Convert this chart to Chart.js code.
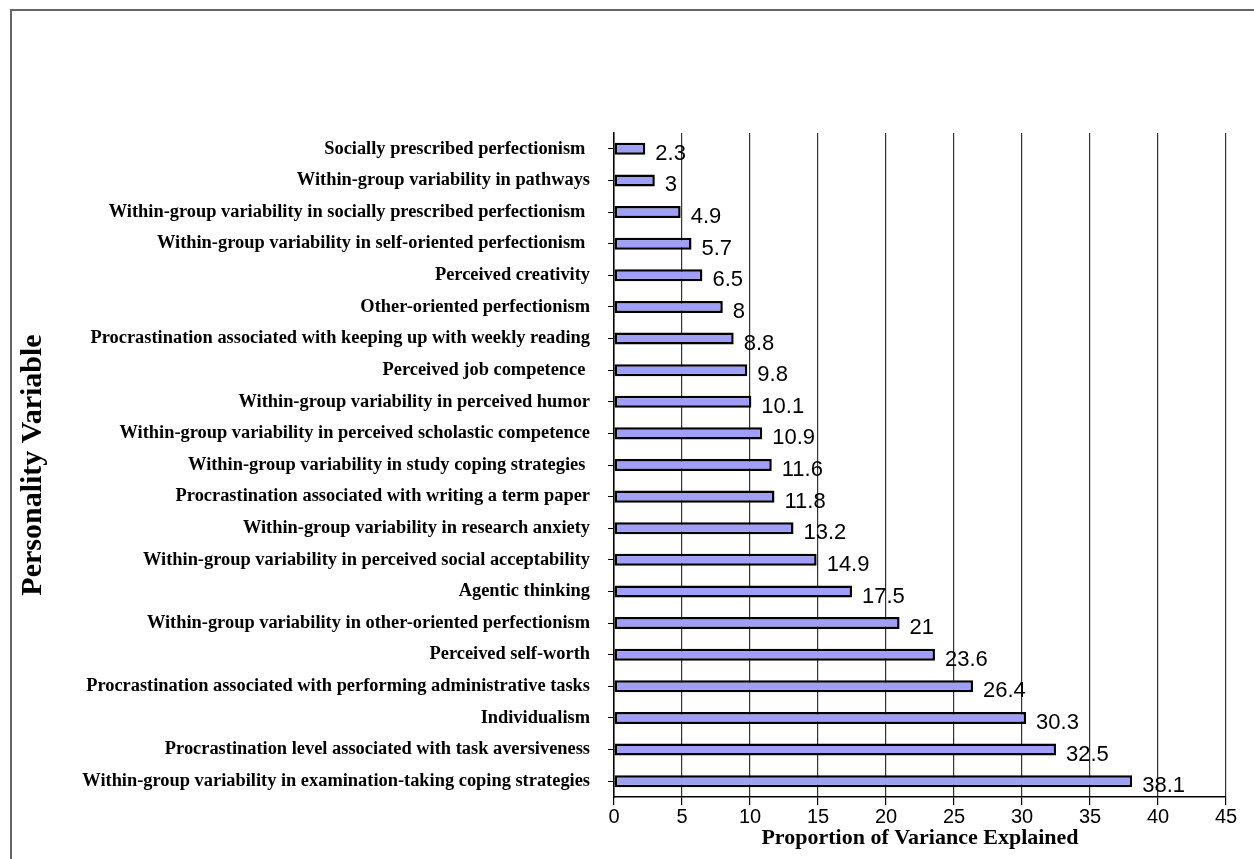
<!DOCTYPE html>
<html>
<head>
<meta charset="utf-8">
<script src="https://cdn.jsdelivr.net/npm/chart.js@4.4.0/dist/chart.umd.min.js"></script>
<style>
  body { margin: 0; background: #fff; }
  #wrap { width: 1254px; height: 859px; position: relative; }
</style>
</head>
<body>
<div id="wrap"><canvas id="barChart"></canvas></div>
<script>
// categories, top to bottom (some labels keep their trailing space like the original)
const variables = [
  "Socially prescribed perfectionism ",
  "Within-group variability in pathways",
  "Within-group variability in socially prescribed perfectionism ",
  "Within-group variability in self-oriented perfectionism ",
  "Perceived creativity",
  "Other-oriented perfectionism",
  "Procrastination associated with keeping up with weekly reading",
  "Perceived job competence ",
  "Within-group variability in perceived humor",
  "Within-group variability in perceived scholastic competence",
  "Within-group variability in study coping strategies ",
  "Procrastination associated with writing a term paper",
  "Within-group variability in research anxiety",
  "Within-group variability in perceived social acceptability",
  "Agentic thinking",
  "Within-group variability in other-oriented perfectionism",
  "Perceived self-worth",
  "Procrastination associated with performing administrative tasks",
  "Individualism",
  "Procrastination level associated with task aversiveness",
  "Within-group variability in examination-taking coping strategies",
];

const varianceExplained = [
  2.3, 3, 4.9, 5.7, 6.5, 8, 8.8, 9.8, 10.1, 10.9, 11.6,
  11.8, 13.2, 14.9, 17.5, 21, 23.6, 26.4, 30.3, 32.5, 38.1,
];

const xTicks = [0, 5, 10, 15, 20, 25, 30, 35, 40, 45];

// white page + grey frame
const framePlugin = {
  id: "frame",
  beforeDraw(chart) {
    const ctx = chart.ctx;
    ctx.save();
    ctx.fillStyle = "#fff";
    ctx.fillRect(0, 0, chart.width, chart.height);
    ctx.strokeStyle = "#666";
    ctx.lineWidth = 2;
    ctx.strokeRect(11, 10, 1400, 1000);
    ctx.restore();
  },
};

// value labels just past the end of each bar
const valueLabels = {
  id: "valueLabels",
  afterDatasetsDraw(chart) {
    const ctx = chart.ctx;
    const meta = chart.getDatasetMeta(0);
    ctx.save();
    ctx.font = "22px 'Liberation Sans', Arial, sans-serif";
    ctx.fillStyle = "#000";
    ctx.textAlign = "left";
    ctx.textBaseline = "middle";
    meta.data.forEach((bar, i) => {
      ctx.fillText(String(varianceExplained[i]), bar.x + 10, bar.y + 5);
    });
    ctx.restore();
  },
};

const barChartCanvas = document.getElementById("barChart").getContext("2d");

const barChart = new Chart(barChartCanvas, {
  type: "bar",
  data: {
    labels: variables,
    datasets: [
      {
        data: varianceExplained,
        backgroundColor: "#9f9ff7",
        borderColor: "#000",
        borderWidth: 2.5,
        borderSkipped: false,
        barPercentage: 0.38,
        categoryPercentage: 1,
      },
    ],
  },
  options: {
    indexAxis: "y",
    responsive: true,
    maintainAspectRatio: false,
    animation: false,
    layout: {
      padding: { top: 133, right: 28, bottom: 0, left: 0 },
    },
    plugins: {
      legend: { display: false },
      tooltip: { enabled: false },
    },
    scales: {
      x: {
        min: 0,
        max: 45,
        afterBuildTicks: (scale) => {
          scale.ticks = xTicks.map((v) => ({ value: v }));
        },
        afterFit: (scale) => {
          scale.height = 62;
        },
        grid: {
          color: "#333",
          lineWidth: 1.2,
          tickLength: 8,
          tickColor: "#000",
        },
        border: { color: "#000", width: 1.5 },
        ticks: {
          color: "#000",
          padding: 0,
          font: { family: "'Liberation Sans', Arial, sans-serif", size: 20 },
        },
        title: {
          display: true,
          text: "Proportion of Variance Explained",
          color: "#000",
          padding: { top: 0, bottom: 7 },
          font: { family: "'Liberation Serif', 'Times New Roman', serif", size: 22, weight: "bold" },
        },
      },
      y: {
        afterFit: (scale) => {
          scale.width = 614;
        },
        grid: {
          drawOnChartArea: false,
          offset: false,
          tickLength: 6,
          tickColor: "#000",
        },
        border: { color: "#000", width: 1.5 },
        ticks: {
          autoSkip: false,
          color: "#000",
          padding: 18,
          font: { family: "'Liberation Serif', 'Times New Roman', serif", size: 18.4, weight: "bold" },
        },
        title: {
          display: true,
          text: "Personality Variable",
          color: "#000",
          padding: { top: 15, bottom: 0 },
          font: { family: "'Liberation Serif', 'Times New Roman', serif", size: 30, weight: "bold" },
        },
      },
    },
  },
  plugins: [framePlugin, valueLabels],
});
</script>
</body>
</html>
